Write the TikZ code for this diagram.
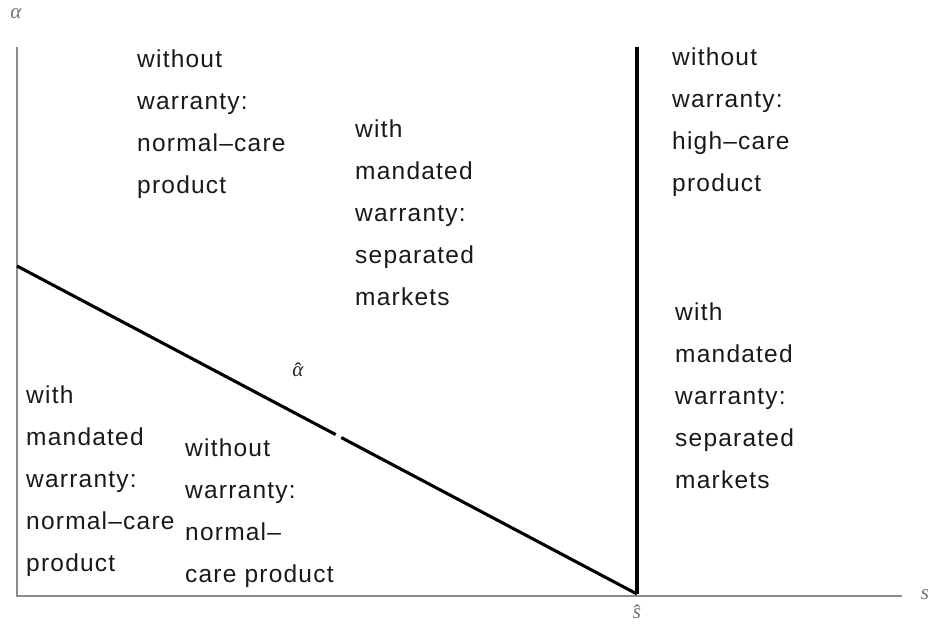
\documentclass[tikz,border=0pt]{standalone}
\usepackage{fontspec}
\usetikzlibrary{calc}
\newfontfamily\regionfont[Ligatures=TeX,LetterSpace=5]{Liberation Sans}
\newfontfamily\varfont{Liberation Serif}
% a circumflex set over a single letter
\newcommand\hatted[1]{\ooalign{#1\cr\hidewidth\raisebox{-0.08em}{\upshape ˆ}\hidewidth\cr}}
\begin{document}
\begin{tikzpicture}[x=1pt,y=-1pt,
  axis/.style={draw=black!45,line width=1.6pt},
  border/.style={draw=black,line width=3.6pt},
  region/.style={anchor=north west,inner sep=0pt,align=left,text=black!90,
    font=\regionfont\fontsize{24.5}{42}\selectfont},
  axlabel/.style={inner sep=0pt,text=black!55,font=\varfont\itshape\fontsize{21}{21}\selectfont}]
\useasboundingbox (0,0) rectangle (930,629);
% axes
\coordinate (O) at (17,596);
\coordinate (ytop) at (17,47);
\coordinate (xend) at (902,596);
\draw[axis] (ytop) -- (O) -- (xend);
\node[axlabel] (alab) at (16,14) {α};
\node[axlabel] (slab) at (925,595) {s};
\node[axlabel] (shat) at (637,614) {\hatted{s}};
% threshold curve alpha-hat and the vertical boundary at s-hat
\coordinate (a0) at (17,266);
\coordinate (sh) at (637,594);
\coordinate (vtop) at (637,47);
\draw[border,line width=3.1pt] (a0) -- ($(a0)!0.514!(sh)$);
\draw[border,line width=3.1pt] ($(a0)!0.523!(sh)$) -- (sh);
\draw[border] (vtop) -- (sh);
\node[axlabel,text=black!85] (ahat) at (298,372) {\hatted{α}};
% region labels (top edge of the first line)
\node[region] (r1) at (137,50) {without\\warranty:\\normal--care\\product};
\node[region] (r2) at (355,120) {with\\mandated\\warranty:\\separated\\markets};
\node[region] (r3) at (672,48) {without\\warranty:\\high--care\\product};
\node[region] (r4) at (675,303) {with\\mandated\\warranty:\\separated\\markets};
\node[region] (r5) at (26,386) {with\\mandated\\warranty:\\normal--care\\product};
\node[region] (r6) at (185,439) {without\\warranty:\\normal--\\care product};
\end{tikzpicture}
\end{document}
